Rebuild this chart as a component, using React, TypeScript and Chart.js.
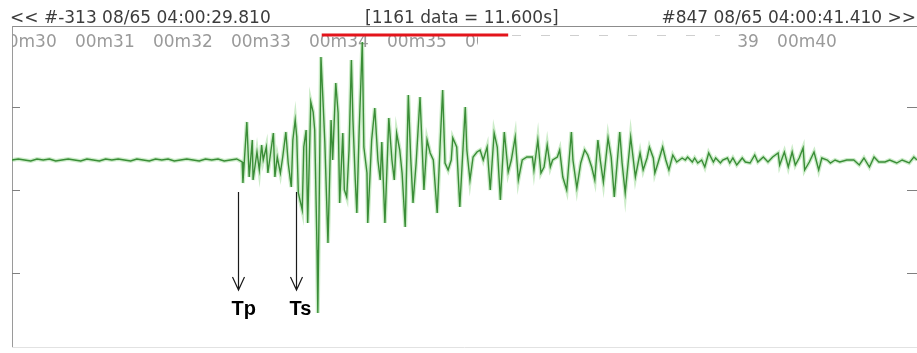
import React, { useEffect, useRef } from "react";
import { Chart, registerables } from "chart.js";

Chart.register(...registerables);

// ---- header texts ----
const headerLeft = "<< #-313 08/65 04:00:29.810";
const headerCenter = "[1161 data = 11.600s]";
const headerRight = "#847 08/65 04:00:41.410 >>";

// ---- time axis ----
const startTime = 29.81; // seconds of first sample
const sampleRate = 100; // samples per second
const totalSamples = 1160;
const secondMarks = [30, 31, 32, 33, 34, 35, 36, 37, 38, 39, 40];
const secondLabels = ["00m30", "00m31", "00m32", "00m33", "00m34", "00m35", "00m36", "00m37", "00m38", "00m39", "00m40"];

// ---- amplitude axis ----
const ampMin = -187;
const ampMax = 134;
const ampTicks = [53, -30, -113];

// ---- seismogram trace (sample index, amplitude) ----
const preSamples = [0, 8, 16, 24, 32, 40, 48, 56, 64, 72, 80, 88, 96, 104, 112, 120, 128, 136, 144, 152, 160, 168, 176, 184, 192, 200, 208, 216, 224, 232, 240, 248, 256, 264, 272, 280, 288];
const preAmps = [0, 1, 0, -1, 1, 0, 1, -1, 0, 1, 0, -1, 1, 0, -1, 1, 0, 1, 0, -1, 1, 0, -1, 1, 0, 1, -1, 0, 1, 0, -1, 1, 0, 1, -1, 0, 1];

const eventSamples = [
  295, 296, 301, 304, 308, 309, 314, 317, 320, 322, 326, 328, 332, 335, 337, 340, 344, 347, 351, 354,
  358, 360, 363, 365, 367, 372, 374, 377, 379, 383, 386, 388, 391, 392, 396, 399, 401, 405, 409, 411,
  415, 418, 420, 424, 426, 429, 432, 435, 437, 440, 442, 445, 449, 451, 455, 456, 461, 465, 469, 472,
  474, 478, 483, 487, 490, 493, 497, 500, 504, 508, 511, 514, 518, 523, 528, 532, 536, 540, 545, 549,
  552, 555, 559, 563, 565, 570, 574, 581, 583, 587, 591, 596, 600, 604, 609, 613, 618, 622, 626, 631,
  636, 640, 645, 649, 654, 660, 667, 669, 674, 678, 682, 686, 690, 693, 699, 702, 706, 711, 717, 719,
  724, 729, 734, 738, 743, 747, 751, 754, 758, 764, 768, 772, 779, 782, 786, 793, 799, 805, 809, 814,
  817, 822, 824, 828, 834, 838, 842, 847, 852, 859, 863, 866, 872, 875, 879, 884, 888, 893, 899, 902,
  908, 911, 917, 920, 924, 929, 936, 940, 946, 952, 956, 963, 969, 975, 982, 984, 990, 995, 1000, 1004,
  1009, 1014, 1016, 1022, 1028, 1034, 1038, 1045, 1049, 1055, 1061, 1070, 1079, 1086, 1092, 1099, 1105, 1111, 1119, 1125,
  1134, 1141, 1150, 1156, 1160,
];
const eventAmps = [
  -2, -23, 38, -17, 20, -20, 8, -10, 15, 0, 13, -13, 10, 27, -17, 3, -13, 3, 28, -3,
  -27, 20, 40, 23, -33, -50, 13, 30, -63, 58, 48, 30, -90, -153, 103, 53, 17, -83, 40, 0,
  77, 47, -43, 27, -30, -37, 10, 100, 40, -20, -53, 30, 118, 13, -13, -63, 20, 52, 0, -20,
  18, -63, 42, 0, -20, 27, 10, -13, -67, 65, 3, -43, -3, 63, -30, 20, 7, 0, -53, 20,
  70, -3, -10, 0, 22, 13, -47, 53, 10, -20, 3, 8, 10, 0, 13, -30, 27, 13, -40, 28,
  -12, 0, 23, -20, 0, 3, 3, -10, 20, -13, -7, 15, -7, 0, 3, 10, -17, -30, 28, 0,
  -28, -3, 10, 5, -7, -20, 20, 0, -22, 22, 3, -37, 28, -3, -33, 23, -17, 7, -10, 2,
  13, 2, -13, -3, 13, 0, -10, 5, -2, 2, 0, 3, -2, 2, -3, 0, -7, 7, -2, 2,
  -3, 0, 2, -3, 2, -5, 2, -2, -3, 5, -2, 3, -2, 3, 7, -5, 8, -7, 8, -5,
  2, 12, -10, -2, 8, -10, 2, 0, -3, 0, -2, 0, 0, -5, 2, -7, 3, -2, -2, 0,
  -3, 0, -3, 3, 0,
];

// ---- selection bar (red) ----
const selectionSamples = [397, 636];
const selectionAmp = 125;

// ---- phase picks ----
const pickNames = ["Tp", "Ts"];
const pickSamples = [290, 364];

const traceSamples = [...preSamples, ...eventSamples];
const traceAmps = [...preAmps, ...eventAmps];

const overlayPlugin = {
  id: "seismoOverlay",
  beforeDatasetsDraw(chart: any) {
    const { ctx, chartArea: a, scales } = chart;
    const x = scales.x;
    const y = scales.y;
    ctx.save();
    // bottom frame line
    ctx.strokeStyle = "#e2e2e2";
    ctx.lineWidth = 1;
    ctx.beginPath();
    ctx.moveTo(a.left, Math.round(a.bottom) + 0.5);
    ctx.lineTo(a.right, Math.round(a.bottom) + 0.5);
    ctx.stroke();
    // amplitude tick marks inside the frame on both sides
    ctx.strokeStyle = "#808080";
    for (const v of ampTicks) {
      const py = Math.round(y.getPixelForValue(v)) + 0.5;
      ctx.beginPath();
      ctx.moveTo(a.left, py);
      ctx.lineTo(a.left + 8, py);
      ctx.moveTo(a.right - 10, py);
      ctx.lineTo(a.right, py);
      ctx.stroke();
    }
    // second labels, partly hidden in the middle
    ctx.save();
    ctx.beginPath();
    ctx.rect(a.left, a.top, 478 - a.left, 40);
    ctx.rect(738, a.top, a.right - 738, 40);
    ctx.clip();
    ctx.font = '17px "DejaVu Sans"';
    ctx.fillStyle = "#9a9a9a";
    ctx.textAlign = "center";
    ctx.textBaseline = "alphabetic";
    secondMarks.forEach((s, i) => {
      const px = x.getPixelForValue((s - startTime) * sampleRate);
      ctx.fillText(secondLabels[i], px, a.top + 21);
    });
    ctx.restore();
    // faint dashes where labels are hidden
    ctx.strokeStyle = "#cfcfcf";
    ctx.setLineDash([9, 20]);
    ctx.beginPath();
    ctx.moveTo(512, a.top + 9.5);
    ctx.lineTo(720, a.top + 9.5);
    ctx.stroke();
    ctx.restore();
  },
  afterDraw(chart: any) {
    const { ctx, scales } = chart;
    const x = scales.x;
    const y = scales.y;
    ctx.save();
    // header
    ctx.font = '17px "DejaVu Sans"';
    ctx.fillStyle = "#3c3c3c";
    ctx.textBaseline = "alphabetic";
    ctx.textAlign = "left";
    ctx.fillText(headerLeft, 10, 23);
    ctx.fillText(headerCenter, 365, 23);
    ctx.textAlign = "right";
    ctx.fillText(headerRight, 916, 23);
    // phase pick arrows
    ctx.strokeStyle = "#1a1a1a";
    ctx.fillStyle = "#000";
    ctx.lineWidth = 1.2;
    const top = y.getPixelForValue(-32);
    const bot = y.getPixelForValue(-130);
    pickSamples.forEach((s, i) => {
      const px = Math.round(x.getPixelForValue(s)) + 0.5;
      ctx.beginPath();
      ctx.moveTo(px, top);
      ctx.lineTo(px, bot);
      ctx.moveTo(px - 6, bot - 13);
      ctx.lineTo(px, bot);
      ctx.lineTo(px + 6, bot - 13);
      ctx.stroke();
      ctx.font = 'bold 20px "Liberation Sans"';
      ctx.textAlign = "left";
      ctx.fillText(pickNames[i], px - 7, bot + 25);
    });
    ctx.restore();
  },
};

export default function App() {
  const canvasRef = useRef<HTMLCanvasElement | null>(null);

  useEffect(() => {
    const canvas = canvasRef.current;
    if (!canvas) return;
    const tracePoints = traceSamples.map((s, i) => ({ x: s, y: traceAmps[i] }));
    const chart = new Chart(canvas, {
      type: "line",
      data: {
        datasets: [
          {
            data: tracePoints,
            borderColor: "rgba(110,200,100,0.35)",
            borderWidth: 4,
            pointRadius: 0,
            tension: 0,
          },
          {
            data: tracePoints,
            borderColor: "#1f6e1f",
            borderWidth: 1.4,
            pointRadius: 0,
            tension: 0,
          },
          {
            data: selectionSamples.map((s) => ({ x: s, y: selectionAmp })),
            borderColor: "#e3141b",
            borderWidth: 3,
            pointRadius: 0,
          },
        ],
      },
      plugins: [overlayPlugin],
      options: {
        animation: false,
        responsive: false,
        devicePixelRatio: 1,
        layout: { padding: { left: 12, top: 26, right: 0, bottom: 6 } },
        plugins: { legend: { display: false }, tooltip: { enabled: false } },
        scales: {
          x: {
            type: "linear",
            position: "top",
            min: 0,
            max: totalSamples,
            ticks: { display: false },
            grid: { display: false, drawTicks: false },
            border: { display: true, color: "#8c8c8c", width: 1 },
          },
          y: {
            type: "linear",
            min: ampMin,
            max: ampMax,
            afterBuildTicks: (axis: any) => {
              axis.ticks = ampTicks.map((v) => ({ value: v }));
            },
            ticks: { display: false },
            grid: { display: false, drawTicks: false },
            border: { display: true, color: "#9a9a9a", width: 1 },
          },
        },
      },
    });
    return () => chart.destroy();
  }, []);

  return (
    <div style={{ position: "absolute", left: 0, top: 0, width: 917, height: 353, background: "#fff" }}>
      <canvas ref={canvasRef} width={917} height={353} />
    </div>
  );
}
